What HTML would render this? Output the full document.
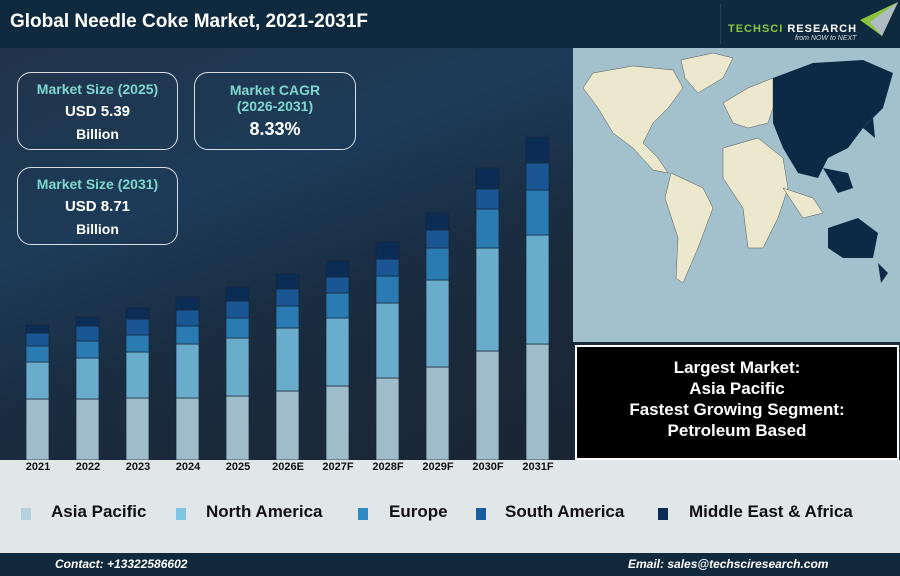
<!DOCTYPE html>
<html><head><meta charset="utf-8"><style>
*{margin:0;padding:0;box-sizing:border-box}
body{width:900px;height:576px;overflow:hidden;font-family:"Liberation Sans",sans-serif;position:relative;background:#1b2a3c}
.hdr{position:absolute;left:0;top:0;width:900px;height:48px;background:#0f2a3e}
.hdr h1{position:absolute;left:10px;top:11px;color:#fff;font-size:19px;font-weight:bold}
.main{position:absolute;left:0;top:48px;width:573px;height:412px;background:linear-gradient(160deg,#22344a 0%,#1c3b58 35%,#1a2c40 60%,#1a2533 100%)}
.box{position:absolute;border:1.5px solid #d8dee4;border-radius:14px;text-align:center;color:#fff;font-weight:bold}
.box .t{color:#7fd8d0;font-size:14px}
.box .v{font-size:15px}
.xl{position:absolute;top:461px;font-size:11px;font-weight:bold;color:#111;width:50px;text-align:center}
.leg{position:absolute;left:0;top:460px;width:900px;height:93px;background:#e1e6e8}
.li{position:absolute;top:511px;font-size:17px;font-weight:bold;color:#111}
.sw{position:absolute;top:508px;width:10px;height:12px}
.ftr{position:absolute;left:0;top:553px;width:900px;height:23px;background:#10293c;color:#fff;font-size:12px;font-style:italic;font-weight:bold}
.blk{position:absolute;left:575px;top:345px;width:324px;height:115px;background:#000;border:2px solid #fff;color:#fff;font-size:17px;font-weight:bold;text-align:center;padding-top:10px;line-height:21px}
</style></head><body>
<div class="hdr"><h1>Global Needle Coke Market, 2021-2031F</h1>
<div style="position:absolute;left:720px;top:4px;width:1px;height:40px;background:#2a4255"></div>
<div style="position:absolute;left:728px;top:23px;font-size:11px;font-weight:bold;color:#8bc53f;letter-spacing:1px">TECHSCI <span style="color:#fff">RESEARCH</span></div>
<div style="position:absolute;left:795px;top:35px;font-size:7px;font-style:italic;color:#ddd">from NOW to NEXT</div>
<svg style="position:absolute;left:860px;top:2px" width="40" height="34"><polygon points="0,18 38,0 22,34" fill="#8bc53f"/><polygon points="10,20 38,0 22,34" fill="#b0bcc4"/></svg>
</div>
<div class="main"></div>
<svg style="position:absolute;left:0;top:0" width="573" height="460">
<g stroke="#1a2a3a" stroke-width="0.6">
<!-- bars -->
<g id="b"></g>
</g>
</svg>
<svg style="position:absolute;left:0;top:0" width="573" height="460" id="bars">
<g stroke="#14253a" stroke-width="0.7">
<rect x="26" y="399" width="23" height="61" fill="#9fbccb"/><rect x="26" y="362" width="23" height="37" fill="#6aaccc"/><rect x="26" y="346" width="23" height="16" fill="#2b7bb3"/><rect x="26" y="333" width="23" height="13" fill="#1a5694"/><rect x="26" y="325" width="23" height="8" fill="#0b2d55"/>
<rect x="76" y="399" width="23" height="61" fill="#9fbccb"/><rect x="76" y="358" width="23" height="41" fill="#6aaccc"/><rect x="76" y="341" width="23" height="17" fill="#2b7bb3"/><rect x="76" y="326" width="23" height="15" fill="#1a5694"/><rect x="76" y="317" width="23" height="9" fill="#0b2d55"/>
<rect x="126" y="398" width="23" height="62" fill="#9fbccb"/><rect x="126" y="352" width="23" height="46" fill="#6aaccc"/><rect x="126" y="335" width="23" height="17" fill="#2b7bb3"/><rect x="126" y="319" width="23" height="16" fill="#1a5694"/><rect x="126" y="308" width="23" height="11" fill="#0b2d55"/>
<rect x="176" y="398" width="23" height="62" fill="#9fbccb"/><rect x="176" y="344" width="23" height="54" fill="#6aaccc"/><rect x="176" y="326" width="23" height="18" fill="#2b7bb3"/><rect x="176" y="310" width="23" height="16" fill="#1a5694"/><rect x="176" y="297" width="23" height="13" fill="#0b2d55"/>
<rect x="226" y="396" width="23" height="64" fill="#9fbccb"/><rect x="226" y="338" width="23" height="58" fill="#6aaccc"/><rect x="226" y="318" width="23" height="20" fill="#2b7bb3"/><rect x="226" y="301" width="23" height="17" fill="#1a5694"/><rect x="226" y="287" width="23" height="14" fill="#0b2d55"/>
<rect x="276" y="391" width="23" height="69" fill="#9fbccb"/><rect x="276" y="328" width="23" height="63" fill="#6aaccc"/><rect x="276" y="306" width="23" height="22" fill="#2b7bb3"/><rect x="276" y="289" width="23" height="17" fill="#1a5694"/><rect x="276" y="274" width="23" height="15" fill="#0b2d55"/>
<rect x="326" y="386" width="23" height="74" fill="#9fbccb"/><rect x="326" y="318" width="23" height="68" fill="#6aaccc"/><rect x="326" y="293" width="23" height="25" fill="#2b7bb3"/><rect x="326" y="277" width="23" height="16" fill="#1a5694"/><rect x="326" y="261" width="23" height="16" fill="#0b2d55"/>
<rect x="376" y="378" width="23" height="82" fill="#9fbccb"/><rect x="376" y="303" width="23" height="75" fill="#6aaccc"/><rect x="376" y="276" width="23" height="27" fill="#2b7bb3"/><rect x="376" y="259" width="23" height="17" fill="#1a5694"/><rect x="376" y="242" width="23" height="17" fill="#0b2d55"/>
<rect x="426" y="367" width="23" height="93" fill="#9fbccb"/><rect x="426" y="280" width="23" height="87" fill="#6aaccc"/><rect x="426" y="248" width="23" height="32" fill="#2b7bb3"/><rect x="426" y="230" width="23" height="18" fill="#1a5694"/><rect x="426" y="213" width="23" height="17" fill="#0b2d55"/>
<rect x="476" y="351" width="23" height="109" fill="#9fbccb"/><rect x="476" y="248" width="23" height="103" fill="#6aaccc"/><rect x="476" y="209" width="23" height="39" fill="#2b7bb3"/><rect x="476" y="189" width="23" height="20" fill="#1a5694"/><rect x="476" y="168" width="23" height="21" fill="#0b2d55"/>
<rect x="526" y="344" width="23" height="116" fill="#9fbccb"/><rect x="526" y="235" width="23" height="109" fill="#6aaccc"/><rect x="526" y="190" width="23" height="45" fill="#2b7bb3"/><rect x="526" y="163" width="23" height="27" fill="#1a5694"/><rect x="526" y="137" width="23" height="26" fill="#0b2d55"/>
</g></svg>
<div class="box" style="left:17px;top:72px;width:161px;height:78px"><div class="t" style="margin-top:8px">Market Size (2025)</div><div class="v" style="margin-top:6px">USD 5.39</div><div style="font-size:14px;margin-top:6px">Billion</div></div>
<div class="box" style="left:194px;top:72px;width:162px;height:78px"><div class="t" style="margin-top:9px;line-height:16px">Market CAGR<br>(2026-2031)</div><div style="font-size:18px;margin-top:5px">8.33%</div></div>
<div class="box" style="left:17px;top:167px;width:161px;height:78px"><div class="t" style="margin-top:8px">Market Size (2031)</div><div class="v" style="margin-top:6px">USD 8.71</div><div style="font-size:14px;margin-top:6px">Billion</div></div>
<!-- map -->
<svg style="position:absolute;left:573px;top:48px" width="327" height="294">
<rect width="327" height="294" fill="#a2c1cd"/>
<g fill="#ece8cd" stroke="#555" stroke-width="0.5">
<path d="M20,25 L60,18 L100,22 L110,40 L95,60 L80,75 L70,95 L85,110 L95,125 L80,122 L60,100 L40,85 L25,60 L10,40 Z"/>
<path d="M108,12 L140,5 L160,10 L150,30 L125,45 L112,30 Z"/>
<path d="M98,125 L130,140 L140,160 L125,200 L110,235 L103,230 L105,190 L92,150 Z"/>
<path d="M150,55 L175,40 L200,30 L200,60 L195,75 L175,80 L160,75 Z"/>
<path d="M150,100 L185,90 L210,110 L215,140 L205,170 L190,200 L175,200 L170,160 L150,130 Z"/>
<path d="M210,140 L240,150 L250,165 L230,170 Z"/>
</g>
<g fill="#0c2a45">
<path d="M200,30 L240,15 L290,12 L320,25 L310,60 L290,80 L275,100 L255,110 L245,130 L225,125 L210,100 L200,75 Z"/>
<path d="M250,120 L275,125 L280,140 L265,145 Z"/>
<path d="M255,180 L285,170 L305,185 L300,210 L270,210 L255,200 Z"/>
<path d="M305,215 L315,225 L308,235 Z"/>
<path d="M290,80 L300,70 L302,90 Z"/>
</g>
</svg>
<div class="blk">Largest Market:<br>Asia Pacific<br>Fastest Growing Segment:<br>Petroleum Based</div>
<div class="leg"></div>
<div class="xl" style="left:13px">2021</div><div class="xl" style="left:63px">2022</div><div class="xl" style="left:113px">2023</div><div class="xl" style="left:163px">2024</div><div class="xl" style="left:213px">2025</div><div class="xl" style="left:263px">2026E</div><div class="xl" style="left:313px">2027F</div><div class="xl" style="left:363px">2028F</div><div class="xl" style="left:413px">2029F</div><div class="xl" style="left:463px">2030F</div><div class="xl" style="left:513px">2031F</div>
<div class="sw" style="left:21px;background:#b4d2de"></div><div class="li" style="left:51px;top:502px">Asia Pacific</div>
<div class="sw" style="left:176px;background:#7fc6e0"></div><div class="li" style="left:206px;top:502px">North America</div>
<div class="sw" style="left:358px;background:#2e8ac6"></div><div class="li" style="left:389px;top:502px">Europe</div>
<div class="sw" style="left:476px;background:#1a5ca0"></div><div class="li" style="left:505px;top:502px">South America</div>
<div class="sw" style="left:658px;background:#0b2d55"></div><div class="li" style="left:689px;top:502px">Middle East &amp; Africa</div>
<div class="ftr"><span style="position:absolute;left:55px;top:4px">Contact: +13322586602</span><span style="position:absolute;left:628px;top:4px">Email: sales@techsciresearch.com</span></div>
</body></html>
